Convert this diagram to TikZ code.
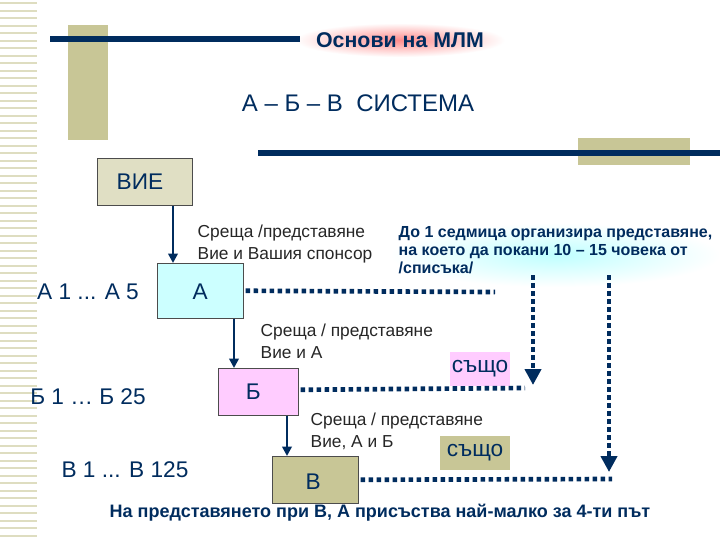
\documentclass[tikz,border=0pt]{standalone}
\usepackage{fontspec}
\setmainfont{Liberation Sans}
\usetikzlibrary{arrows.meta,calc,positioning}
\definecolor{navy}{RGB}{0,44,94}
\definecolor{olive}{RGB}{200,198,150}
\definecolor{oliveL}{RGB}{224,223,196}
\definecolor{cyanL}{RGB}{204,255,255}
\definecolor{pinkL}{RGB}{255,204,255}
\tikzset{
  box/.style={draw=black!70,anchor=north west,inner sep=0pt},
  lbl/.style={font=\fontsize{13}{16.5}\selectfont,align=left,anchor=west,text=black!85},
  big/.style={font=\fontsize{17}{20}\selectfont},
  dots/.style={line width=3.5pt,navy,dash pattern=on 3.5pt off 2.5pt},
  arr/.style={line width=1.8pt,navy,-{Triangle[length=7pt,width=7pt]}},
  darr/.style={dots,-{Triangle[length=12pt,width=12pt]}}
}
\begin{document}
\begin{tikzpicture}[x=0.75pt,y=-0.75pt]
\useasboundingbox[fill=white] (0,0) rectangle (720,540);
% left stripes
\foreach \y in {3,10.5,...,540} \draw[olive!60,line width=1.5pt] (0,\y) -- (37,\y);
% decoration bars
\fill[olive] (68,25) rectangle (108,140);
\fill[olive] (578,138) rectangle (690,165);
\shade[inner color=red!45,outer color=white] (400,40) ellipse (105 and 17);
\draw[navy,line width=4.5pt] (50,39) -- (300,39);
\draw[navy,line width=4.5pt] (258,153) -- (720,153);
\shade[inner color=cyan!25,outer color=white] (555,255) ellipse (165 and 32);
% titles
\node[font=\bfseries\fontsize{16}{18}\selectfont,text=navy] (title) at (400,40) {Основи на МЛМ};
\node[font=\fontsize{18}{20}\selectfont,text=navy] (sub) at (358,103) {А – Б – В \ СИСТЕМА};
% boxes
\node[box,fill=oliveL,minimum width=71.25pt,minimum height=35.25pt] (vie) at (97,158) {};
\node[big,text=navy,anchor=west] at ($(vie.west)+(15,0)$) {ВИЕ};
\node[box,fill=cyanL,minimum width=64.5pt,minimum height=41.25pt] (a) at (157,263) {};
\node[big,text=navy] at ($(a.center)+(0,1)$) {А};
\node[box,fill=pinkL,minimum width=60pt,minimum height=35.25pt] (b) at (218,368) {};
\node[big,text=navy] at ($(b.center)+(-5,0)$) {Б};
\node[box,fill=olive,minimum width=64.5pt,minimum height=35.25pt] (v) at (272,456) {};
\node[big,text=navy] at ($(v.center)+(-2,2)$) {В};
% arrows
\draw[arr] (vie.south -| 173,0) -- (a.north -| 173,0);
\draw[arr] (a.south -| 234,0) -- (b.north -| 234,0);
\draw[arr] (b.south -| 287,0) -- (v.north -| 287,0);
% labels
\node[lbl] (l1) at (193,244) {Среща /представяне\\Вие и Вашия спонсор};
\node[lbl] (l2) at (256,341) {Среща / представяне\\Вие и А};
\node[lbl] (l3) at (306,431) {Среща / представяне\\Вие, А и Б};
\node[lbl,font=\bfseries\fontsize{12}{13.5}\selectfont,text=navy] (note) at (394,250)
  {До 1 седмица организира представяне,\\на което да покани 10 – 15 човека от\\/списъка/};
\node[big,text=navy] (ra) at (88,292) {А 1 ... А 5};
\node[big,text=navy] (rb) at (88,397) {Б 1 … Б 25};
\node[big,text=navy] (rv) at (125,470) {В 1 ... В 125};
\node[fill=pinkL,big,text=navy,minimum width=35pt,minimum height=26pt,inner sep=1pt] (s1) at (480,369) {също};
\node[fill=olive,big,text=navy,minimum width=52pt,minimum height=25pt,inner sep=1pt] (s2) at (475,453) {също};
% dotted links
\draw[dots] (a.east) ++(2,0) -- (495,292);
\draw[dots] (b.east) ++(2,-2) -- (525,388);
\draw[dots] (v.east) ++(2,0) -- (612,479);
\draw[darr] (533,275) -- (533,385);
\draw[darr] (609,275) -- (609,472);
\node[font=\bfseries\fontsize{13.5}{15}\selectfont,text=navy] (bottom) at (380,513)
  {На представянето при В, А присъства най-малко за 4-ти път};
\end{tikzpicture}
\end{document}
